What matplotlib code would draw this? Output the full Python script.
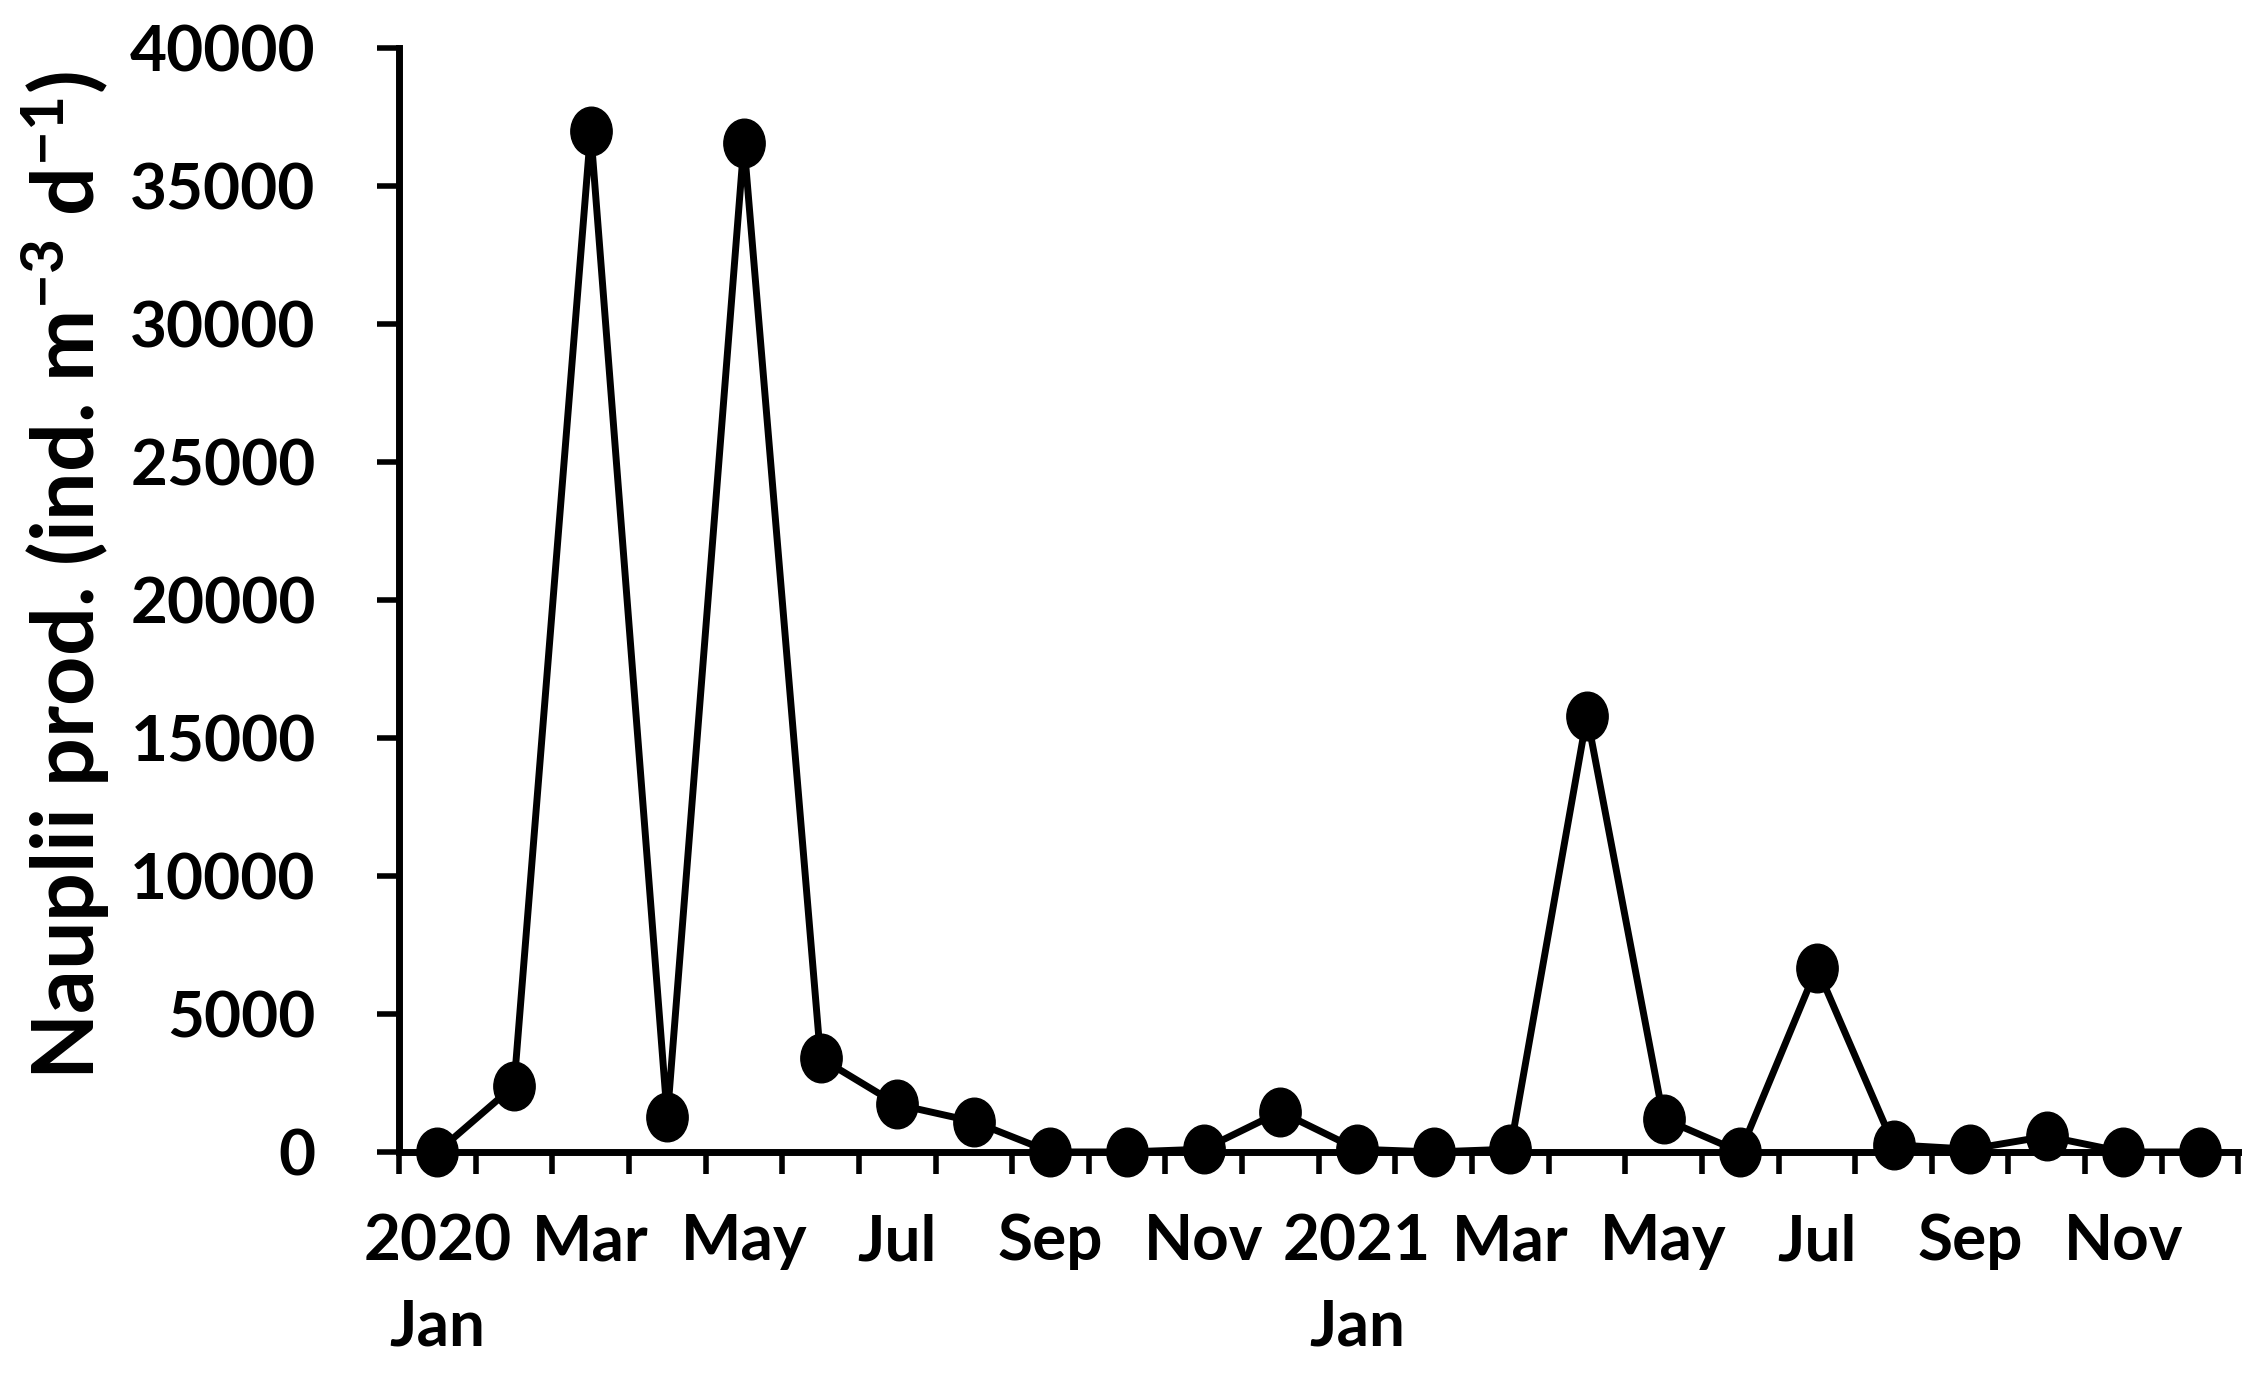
import numpy as np
import matplotlib
matplotlib.use('Agg')
import matplotlib.pyplot as plt
from matplotlib.path import Path
from matplotlib.transforms import Affine2D
from matplotlib.markers import MarkerStyle

plt.rcParams['font.family'] = ['Lato', 'DejaVu Sans']
plt.rcParams['font.weight'] = 'bold'
plt.rcParams['mathtext.fontset'] = 'custom'
plt.rcParams['mathtext.rm'] = 'Lato:bold'
plt.rcParams['mathtext.bf'] = 'Lato:bold'
plt.rcParams['mathtext.default'] = 'bf'

# monthly naupliar production, Jan 2020 - Dec 2021
months = ['Jan', 'Feb', 'Mar', 'Apr', 'May', 'Jun', 'Jul', 'Aug', 'Sep', 'Oct', 'Nov', 'Dec'] * 2
years = [2020] * 12 + [2021] * 12
nauplii = [0, 2400, 37000, 1250, 36550, 3400, 1720, 1100, 0, 0, 100, 1460,
           100, 0, 100, 15800, 1200, 0, 6680, 260, 100, 570, 0, 0]
yticks = [0, 5000, 10000, 15000, 20000, 25000, 30000, 35000, 40000]

x = np.arange(len(nauplii))
labels = []
for i, (m, y) in enumerate(zip(months, years)):
    if i % 2:
        continue
    labels.append(f'{y}\n{m}' if m == 'Jan' else m)

fig = plt.figure(figsize=(22.61, 13.74), dpi=100)
ax = fig.add_axes([0.1765, 0.1616, 0.8135, 0.8034])

ell = Path.unit_circle().transformed(Affine2D().scale(0.85, 1.0))
ax.plot(x, nauplii, color='black', lw=5, marker=MarkerStyle(ell), ms=35,
        clip_on=False, zorder=5)

ax.set_xlim(-0.5, len(nauplii) - 0.5)
ax.set_ylim(0, 40000)
ax.set_yticks(yticks)
ax.set_xticks(x[::2])
ax.set_xticklabels(labels, linespacing=1.6)
ax.set_xticks(np.arange(-0.5, len(nauplii)), minor=True)

for s in ['top', 'right']:
    ax.spines[s].set_visible(False)
for s in ['left', 'bottom']:
    ax.spines[s].set_linewidth(5)

ax.tick_params(axis='y', direction='out', length=16, width=4, labelsize=46, pad=44)
ax.tick_params(axis='x', which='major', length=0, labelsize=46, pad=44)
ax.tick_params(axis='x', which='minor', direction='out', length=16, width=4)

ax.set_ylabel(r'Nauplii prod. (ind. m$^{-3}$ d$^{-1}$)', fontsize=62, fontweight='bold')
ax.yaxis.label.set_va('center')
ax.yaxis.set_label_coords(65 / 2261, 1 - 575 / 1374, transform=fig.transFigure)

fig.savefig('out.png', dpi=100)
